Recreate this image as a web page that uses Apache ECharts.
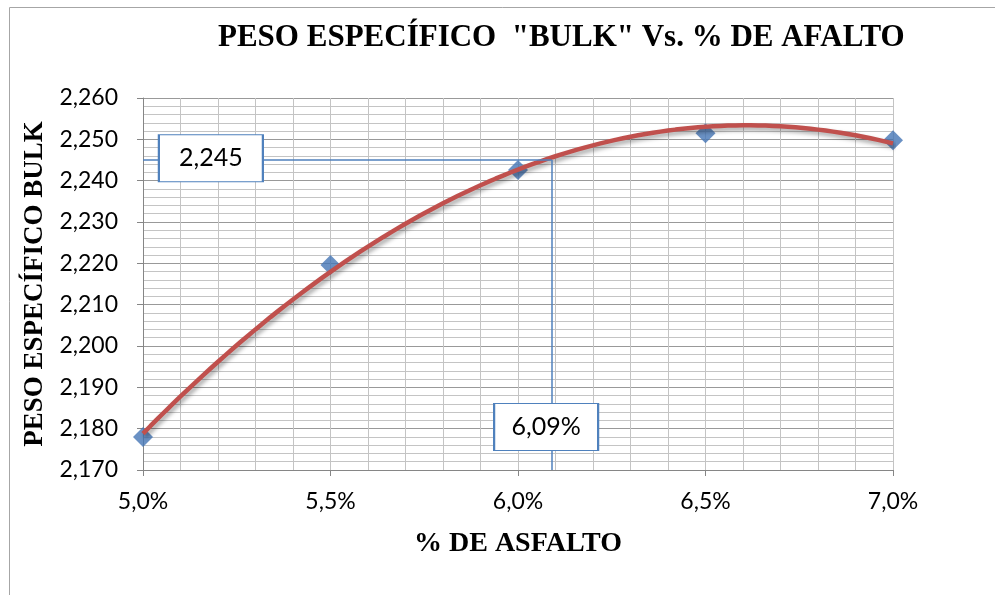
<!DOCTYPE html>
<html>
<head>
<meta charset="utf-8">
<script src="https://cdn.jsdelivr.net/npm/echarts@6/dist/echarts.min.js"></script>
<style>
  html, body { margin: 0; padding: 0; background: #ffffff; }
  #chart { width: 995px; height: 595px; }
</style>
</head>
<body>
<div id="chart"></div>
<script>
// Asphalt content (%) and measured bulk specific gravity
const asphaltPct = [5.0, 5.5, 6.0, 6.5, 7.0];
const bulkGravity = [2.178, 2.2196, 2.2426, 2.2515, 2.2498];

// Design point read on the trend curve
const optimumPct = 6.09;
const optimumGravity = 2.245;

const chartTitle = 'PESO ESPECÍFICO  "BULK" Vs. % DE AFALTO';
const xAxisTitle = '% DE ASFALTO';
const yAxisTitle = 'PESO ESPECÍFICO BULK';

// Second-order least-squares trendline through the measured points
function quadraticFit(xs, ys) {
  const n = xs.length;
  let s = [0, 0, 0, 0, 0], t = [0, 0, 0];
  for (let i = 0; i < n; i++) {
    let p = 1;
    for (let k = 0; k < 5; k++) { s[k] += p; if (k < 3) t[k] += p * ys[i]; p *= xs[i]; }
  }
  // solve 3x3 normal equations
  const A = [[s[0], s[1], s[2], t[0]], [s[1], s[2], s[3], t[1]], [s[2], s[3], s[4], t[2]]];
  for (let c = 0; c < 3; c++) {
    for (let r = c + 1; r < 3; r++) {
      const f = A[r][c] / A[c][c];
      for (let k = c; k < 4; k++) A[r][k] -= f * A[c][k];
    }
  }
  const coef = [0, 0, 0];
  for (let r = 2; r >= 0; r--) {
    let v = A[r][3];
    for (let k = r + 1; k < 3; k++) v -= A[r][k] * coef[k];
    coef[r] = v / A[r][r];
  }
  return x => coef[0] + coef[1] * x + coef[2] * x * x;
}

const trend = quadraticFit(asphaltPct, bulkGravity);
const trendPoints = [];
const x0 = asphaltPct[0], x1 = asphaltPct[asphaltPct.length - 1];
for (let i = 0; i <= 100; i++) {
  const x = x0 + (x1 - x0) * i / 100;
  trendPoints.push([x, trend(x)]);
}

const fmtComma = (v, d) => v.toFixed(d).replace('.', ',');
const blue = '#4f81bd';
const gridMajor = '#999999';
const gridMinor = '#c4c4c4';

const chart = echarts.init(document.getElementById('chart'), null, { renderer: 'canvas' });

chart.setOption({
  animation: false,
  backgroundColor: '#ffffff',
  title: {
    text: chartTitle,
    left: 213,
    top: 17,
    textStyle: {
      fontFamily: 'Liberation Serif',
      fontWeight: 'bold',
      fontSize: 31,
      color: '#000000'
    }
  },
  graphic: [{
    type: 'rect',
    left: 7, top: 5,
    shape: { x: 0.5, y: 0.5, width: 1000, height: 600 },
    style: { fill: null, stroke: '#a6a6a6', lineWidth: 1 },
    silent: true
  }],
  grid: { left: 143, right: 102, top: 98, bottom: 125, containLabel: false },
  xAxis: {
    type: 'value',
    min: 5.0, max: 7.0, interval: 0.5,
    name: xAxisTitle,
    nameLocation: 'middle',
    nameGap: 60,
    nameTextStyle: { fontFamily: 'Liberation Serif', fontWeight: 'bold', fontSize: 28, color: '#000' },
    axisLine: { show: true, onZero: false, lineStyle: { color: '#868686', width: 1 } },
    axisTick: { show: true, length: 6, lineStyle: { color: '#868686' } },
    minorTick: { show: false, splitNumber: 5 },
    splitLine: { show: true, lineStyle: { color: gridMinor, width: 1 } },
    minorSplitLine: { show: true, lineStyle: { color: gridMinor, width: 1 } },
    axisLabel: {
      margin: 20,
      fontFamily: 'Lato', fontSize: 23, color: '#000',
      formatter: v => fmtComma(v, 1) + '%'
    }
  },
  yAxis: {
    type: 'value',
    min: 2.17, max: 2.26, interval: 0.01,
    name: yAxisTitle,
    nameLocation: 'middle',
    nameRotate: 90,
    nameGap: 92,
    nameTextStyle: { fontFamily: 'Liberation Serif', fontWeight: 'bold', fontSize: 27, color: '#000' },
    axisLine: { show: true, lineStyle: { color: '#868686', width: 1 } },
    axisTick: { show: true, length: 6, lineStyle: { color: '#868686' } },
    minorTick: { show: false, splitNumber: 5 },
    splitLine: { show: true, lineStyle: { color: gridMajor, width: 1 } },
    minorSplitLine: { show: true, lineStyle: { color: gridMinor, width: 1 } },
    axisLabel: {
      margin: 25,
      fontFamily: 'Lato', fontSize: 23, color: '#000',
      formatter: v => fmtComma(v, 3)
    }
  },
  series: [
    {
      // guide lines to the design point
      type: 'line',
      data: [],
      z: 1,
      markLine: {
        silent: true,
        symbol: 'none',
        label: { show: false },
        lineStyle: { color: blue, width: 1.5, type: 'solid' },
        data: [
          [{ coord: [x0, optimumGravity] }, { coord: [optimumPct, optimumGravity] }],
          [{ coord: [optimumPct, optimumGravity] }, { coord: [optimumPct, 2.17] }]
        ]
      }
    },
    {
      name: 'Peso específico bulk',
      type: 'scatter',
      data: asphaltPct.map((x, i) => [x, bulkGravity[i]]),
      symbol: 'diamond',
      symbolSize: 20,
      itemStyle: { color: '#4575b5' },
      z: 2
    },
    {
      name: 'Tendencia',
      type: 'line',
      data: trendPoints,
      showSymbol: false,
      smooth: false,
      lineStyle: {
        color: '#c0504d', width: 4.5,
        shadowColor: 'rgba(0,0,0,0.35)', shadowBlur: 4, shadowOffsetX: 2, shadowOffsetY: 3
      },
      z: 3
    },
    {
      // value boxes for the design point
      type: 'scatter',
      data: [],
      z: 4,
      markPoint: {
        silent: true,
        symbol: 'rect',
        symbolSize: [104, 47],
        itemStyle: { color: '#ffffff', borderColor: blue, borderWidth: 1.5 },
        label: {
          show: true, position: 'inside',
          fontFamily: 'Lato', fontSize: 25, color: '#000'
        },
        data: [
          { coord: [5.181, 2.2454], value: fmtComma(optimumGravity, 3), label: { formatter: fmtComma(optimumGravity, 3) } },
          { coord: [6.075, 2.1804], value: fmtComma(optimumPct, 2) + '%', label: { formatter: fmtComma(optimumPct, 2) + '%' } }
        ]
      }
    }
  ]
});
</script>
</body>
</html>
